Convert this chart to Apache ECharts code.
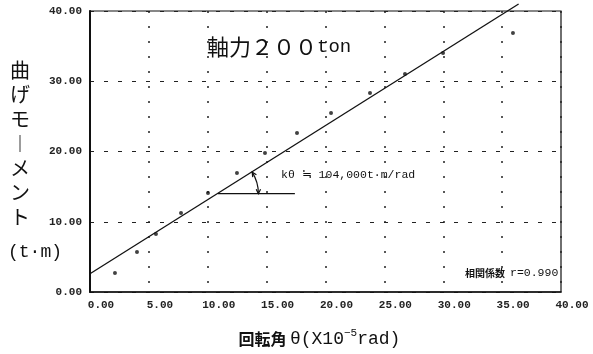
<!DOCTYPE html>
<html><head><meta charset="utf-8">
<script src="https://cdn.jsdelivr.net/npm/echarts@6/dist/echarts.min.js"></script>
<style>html,body{margin:0;padding:0;background:#fff}#c{width:593px;height:354px}</style>
</head><body><div id="c"></div>
<script>
// measured data (rotation angle x1e-5 rad, bending moment t·m)
const rotationX = [2.12, 3.99, 5.6, 7.73, 10.02, 12.48, 14.86, 17.58, 20.47, 23.78, 26.75, 29.98, 35.92];
const momentY  = [2.70, 5.69, 8.26, 11.25, 14.09, 16.94, 19.79, 22.63, 25.48, 28.33, 31.03, 34.02, 36.87];
// regression line end points
const fitLineX = [0, 36.4];
const fitLineY = [2.6, 41.0];
// angle marker: vertex x, vertex y, baseline end x, arc radius x
const angleMark = [10.87, 14.0, 17.4, 14.3];
const xTickStep = 5, yTickStep = 10;
const xRange = [0, 40], yRange = [0, 40];

const INK = '#111';
const MONO = 'Liberation Mono';
const CJK = 'Noto Sans CJK JP';

const chart = echarts.init(document.getElementById('c'));
chart.setOption({
  animation: false,
  backgroundColor: '#fff',
  title: [
    { text: '{a|軸力２００}{b|ton}', left: 207, top: 35, padding: 0,
      textStyle: { fontWeight: 'normal', rich: {
        a: { fontFamily: CJK, fontSize: 22, fontWeight: 'normal', color: INK, lineHeight: 24 },
        b: { fontFamily: MONO, fontSize: 19, fontWeight: 'normal', color: INK, lineHeight: 24 } } } },
    { text: 'kθ ≒ 104,000t·m/rad', left: 281, top: 169, padding: 0,
      textStyle: { fontFamily: MONO, fontSize: 11.5, fontWeight: 'normal', color: INK } },
    { text: '{a|相関係数} {b|r=0.990}', left: 465, top: 264, padding: 0,
      textStyle: { fontWeight: 'normal', rich: {
        a: { fontFamily: CJK, fontSize: 10, fontWeight: 'bold', color: INK },
        b: { fontFamily: MONO, fontSize: 11.5, fontWeight: 'normal', color: INK } } } }
  ],
  grid: { left: 90, right: 32, top: 11, bottom: 62, show: true, borderColor: INK, borderWidth: 1.2,
    containLabel: false, outerBoundsMode: 'none' },
  xAxis: {
    type: 'value', min: xRange[0], max: xRange[1], interval: xTickStep,
    axisLine: { show: true, lineStyle: { color: INK, width: 1.5 } },
    axisTick: { show: false },
    axisLabel: { formatter: v => v.toFixed(2), fontFamily: MONO, fontWeight: 'bold', fontSize: 11,
      color: '#222', margin: 8, align: 'center', padding: [0, 0, 0, 22] },
    splitLine: { show: true, lineStyle: { color: '#222', type: [2, 13], width: 1.5 } },
    name: '{c|回転角} {s|θ(X10}{p|−5}{s|rad)}',
    nameLocation: 'middle', nameGap: 36, nameMoveOverlap: false,
    nameTextStyle: { padding: [0, 12, 0, 0], rich: {
      c: { fontFamily: CJK, fontSize: 16, fontWeight: 'bold', color: INK, lineHeight: 22 },
      s: { fontFamily: MONO, fontSize: 18, color: INK, lineHeight: 22 },
      p: { fontFamily: MONO, fontSize: 11, color: INK, lineHeight: 12, verticalAlign: 'top' } } }
  },
  yAxis: {
    type: 'value', min: yRange[0], max: yRange[1], interval: yTickStep,
    axisLine: { show: true, lineStyle: { color: INK, width: 2 } },
    axisTick: { show: false },
    axisLabel: { formatter: v => v.toFixed(2), fontFamily: MONO, fontWeight: 'bold', fontSize: 11,
      color: '#222', margin: 8, padding: [8, 0, 0, 0] },
    splitLine: { show: true, lineStyle: { color: '#222', type: [4, 10], width: 1.2 } },
    name: '{c|曲}\n{c|げ}\n{c|モ}\n{c|︱}\n{c|メ}\n{c|ン}\n{c|ト}\n{u|(t·m)}',
    nameLocation: 'middle', nameRotate: 0, nameGap: 70, nameMoveOverlap: false,
    nameTextStyle: { align: 'center', verticalAlign: 'middle', padding: [30, 0, 0, 0], rich: {
      c: { fontFamily: CJK, fontSize: 20, lineHeight: 24.5, color: INK },
      u: { fontFamily: MONO, fontSize: 18, lineHeight: 46, color: INK, padding: [0, 0, 0, 30] } } }
  },
  series: [
    { type: 'line', data: fitLineX.map((x, i) => [x, fitLineY[i]]), showSymbol: false, clip: false,
      lineStyle: { color: INK, width: 1.3 }, silent: true, z: 2 },
    { type: 'scatter', data: rotationX.map((x, i) => [x, momentY[i]]), symbolSize: 4,
      itemStyle: { color: INK }, silent: true, z: 3 },
    { type: 'custom', data: [angleMark], silent: true, clip: false, z: 4,
      renderItem: function (params, api) {
        const v = api.coord([api.value(0), api.value(1)]);
        const e = api.coord([api.value(2), api.value(1)]);
        const a = api.coord([api.value(3), api.value(1)]);
        const p0 = api.coord([fitLineX[0], fitLineY[0]]);
        const p1 = api.coord([fitLineX[1], fitLineY[1]]);
        const ang = Math.atan2(p1[1] - p0[1], p1[0] - p0[0]);
        const r = a[0] - v[0];
        const sx = v[0] + r * Math.cos(ang), sy = v[1] + r * Math.sin(ang);
        const ex = v[0] + r, ey = v[1];
        function head(tx, ty, dx, dy) {
          const L = 5, w = 0.45, bx = -dx, by = -dy, c = Math.cos(w), s = Math.sin(w);
          const b1 = [tx + L * (bx * c - by * s), ty + L * (bx * s + by * c)];
          const b2 = [tx + L * (bx * c + by * s), ty + L * (-bx * s + by * c)];
          return { type: 'polyline', shape: { points: [b1, [tx, ty], b2] },
            style: { stroke: INK, fill: null, lineWidth: 1.2 } };
        }
        return { type: 'group', children: [
          { type: 'line', shape: { x1: v[0], y1: v[1], x2: e[0], y2: e[1] }, style: { stroke: INK, lineWidth: 1.4 } },
          { type: 'arc', shape: { cx: v[0], cy: v[1], r: r, startAngle: ang, endAngle: 0, clockwise: true },
            style: { stroke: INK, fill: null, lineWidth: 1.2 } },
          head(ex, ey, 0, 1),
          head(sx, sy, Math.sin(ang), -Math.cos(ang))
        ] };
      } }
  ]
});
</script>
</body></html>
